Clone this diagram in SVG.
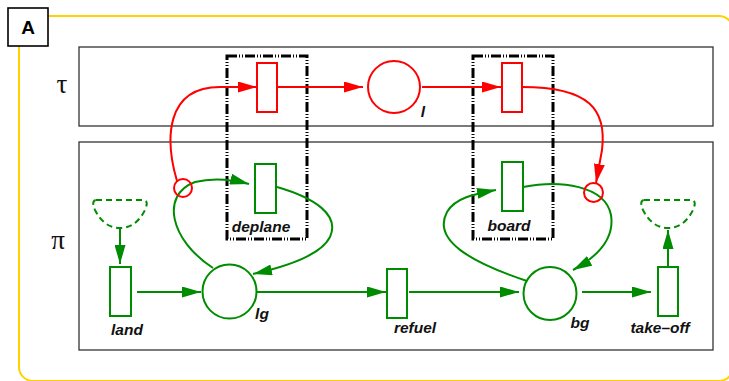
<svg xmlns="http://www.w3.org/2000/svg" width="729" height="381" viewBox="0 0 729 381">
  <style>
    .frame { fill: none; stroke: #FFD200; stroke-width: 2; }
    .region { fill: #fff; stroke: #333; stroke-width: 1.3; }
    .scope { fill: none; stroke: #000; stroke-width: 3; stroke-dasharray: 10 2 1 2 1 2; }
    .red { fill: none; stroke: #FF0000; stroke-width: 2; }
    .green { fill: none; stroke: #008C00; stroke-width: 2; }
    .cup { fill: none; stroke: #008C00; stroke-width: 2; stroke-dasharray: 6 4; }
    .node-r { fill: #fff; stroke: #FF0000; stroke-width: 2; }
    .ring-r { fill: none; stroke: #FF0000; stroke-width: 2; }
    .node-g { fill: #fff; stroke: #008C00; stroke-width: 2; }
    .lbl { font-family: "Liberation Sans", Arial, sans-serif; font-size: 15.5px; font-weight: bold; font-style: italic; fill: #111; text-anchor: middle; }
    .greek { font-family: "Liberation Serif", "Times New Roman", serif; font-size: 27px; fill: #111; text-anchor: middle; }
    .tag { font-family: "Liberation Sans", Arial, sans-serif; font-size: 19px; font-weight: bold; fill: #000; text-anchor: middle; }
  </style>
  <defs>
    <marker id="arrow-red" markerUnits="userSpaceOnUse" markerWidth="19" markerHeight="11" refX="19" refY="5.5" orient="auto">
      <path d="M0,0 L19,5.5 L0,11 z" fill="#FF0000"/>
    </marker>
    <marker id="arrow-green" markerUnits="userSpaceOnUse" markerWidth="19" markerHeight="11" refX="19" refY="5.5" orient="auto">
      <path d="M0,0 L19,5.5 L0,11 z" fill="#008C00"/>
    </marker>
  </defs>

  <rect width="729" height="381" fill="#fff"/>

  <!-- outer panel frame and its tag -->
  <g id="panel">
    <rect class="frame" x="19" y="16" width="714" height="365" rx="14"/>
  </g>
  <g id="tag-A">
    <rect x="8" y="8" width="40" height="38" fill="#fff" stroke="#000" stroke-width="1.6"/>
    <text class="tag" x="28" y="34">A</text>
  </g>

  <!-- layer regions -->
  <g id="layer-tau">
    <rect class="region" x="79" y="47" width="634" height="79"/>
    <text class="greek" x="62" y="93">τ</text>
  </g>
  <g id="layer-pi">
    <rect class="region" x="79" y="142" width="634" height="208"/>
    <text class="greek" x="58" y="249">π</text>
  </g>

  <!-- synchronisation scopes -->
  <g id="scope-deplane">
    <rect class="scope" x="227" y="56" width="80" height="183"/>
  </g>
  <g id="scope-board">
    <rect class="scope" x="473" y="56" width="80" height="183"/>
  </g>

  <!-- tau layer nodes -->
  <g id="t-deplane-tau">
    <rect class="node-r" x="257" y="63" width="20" height="49"/>
  </g>
  <g id="p-l">
    <circle class="node-r" cx="394" cy="87" r="26"/>
    <text class="lbl" x="423" y="117">l</text>
  </g>
  <g id="t-board-tau">
    <rect class="node-r" x="502" y="63" width="20" height="49"/>
  </g>

  <!-- pi layer nodes -->
  <g id="source">
    <path class="cup" d="M96,200 L144,200 Q149,201 145,210 Q136,228 120,228 Q104,228 95,210 Q91,201 96,200 Z"/>
  </g>
  <g id="t-land">
    <rect class="node-g" x="110" y="267" width="21" height="49"/>
    <text class="lbl" x="127" y="335">land</text>
  </g>
  <g id="p-lg">
    <circle class="node-g" cx="229.5" cy="291.5" r="27"/>
    <text class="lbl" x="262" y="319">lg</text>
  </g>
  <g id="t-deplane">
    <rect class="node-g" x="255" y="164" width="21" height="49"/>
    <text class="lbl" x="261" y="232">deplane</text>
  </g>
  <g id="t-refuel">
    <rect class="node-g" x="387" y="269" width="20" height="49"/>
    <text class="lbl" x="415" y="333">refuel</text>
  </g>
  <g id="t-board">
    <rect class="node-g" x="502" y="162" width="21" height="49"/>
    <text class="lbl" x="509" y="231">board</text>
  </g>
  <g id="p-bg">
    <circle class="node-g" cx="550" cy="293.5" r="26.5"/>
    <text class="lbl" x="580" y="328">bg</text>
  </g>
  <g id="t-takeoff">
    <rect class="node-g" x="658" y="267" width="20" height="49"/>
    <text class="lbl" x="660" y="333">take–off</text>
  </g>
  <g id="sink">
    <path class="cup" d="M644,200 L692,200 Q697,201 693,210 Q684,228 668,228 Q652,228 643,210 Q639,201 644,200 Z"/>
  </g>

  <!-- arcs -->
  <g id="connectors">
    <!-- tau layer -->
    <path class="red" d="M278,87 L363,87" marker-end="url(#arrow-red)"/>
    <path class="red" d="M422,87 L501,87" marker-end="url(#arrow-red)"/>
    <path class="red" d="M177,181 C165,140 165,87 220,87 L257,87" marker-end="url(#arrow-red)"/>
    <path class="red" d="M522,87 C590,87 607,110 602,150 L596,183" marker-end="url(#arrow-red)"/>

    <!-- pi layer, main line -->
    <path class="green" d="M120,229 L120,264" marker-end="url(#arrow-green)"/>
    <path class="green" d="M137,292 L201,292" marker-end="url(#arrow-green)"/>
    <path class="green" d="M257,292 L386,292" marker-end="url(#arrow-green)"/>
    <path class="green" d="M409,292 L519,292" marker-end="url(#arrow-green)"/>
    <path class="green" d="M582,292 L651,292" marker-end="url(#arrow-green)"/>
    <path class="green" d="M668,266 L668,230" marker-end="url(#arrow-green)"/>

    <!-- pi layer, loops -->
    <path class="green" d="M213,268 C170,240 160,195 195,182 C215,177 234,180 249,184" marker-end="url(#arrow-green)"/>
    <path class="green" d="M277,187 C315,198 340,215 330,237 C320,257 280,268 253,274" marker-end="url(#arrow-green)"/>
    <path class="green" d="M527,281 C470,262 432,240 447,212 C455,198 474,194 496,190" marker-end="url(#arrow-green)"/>
    <path class="green" d="M523,187 C560,180 605,185 611,215 C615,240 595,258 573,270" marker-end="url(#arrow-green)"/>

    <!-- read-arc anchors -->
    <circle class="ring-r" cx="183" cy="188" r="9"/>
    <circle class="ring-r" cx="593.5" cy="192.5" r="9.5"/>
  </g>
</svg>
